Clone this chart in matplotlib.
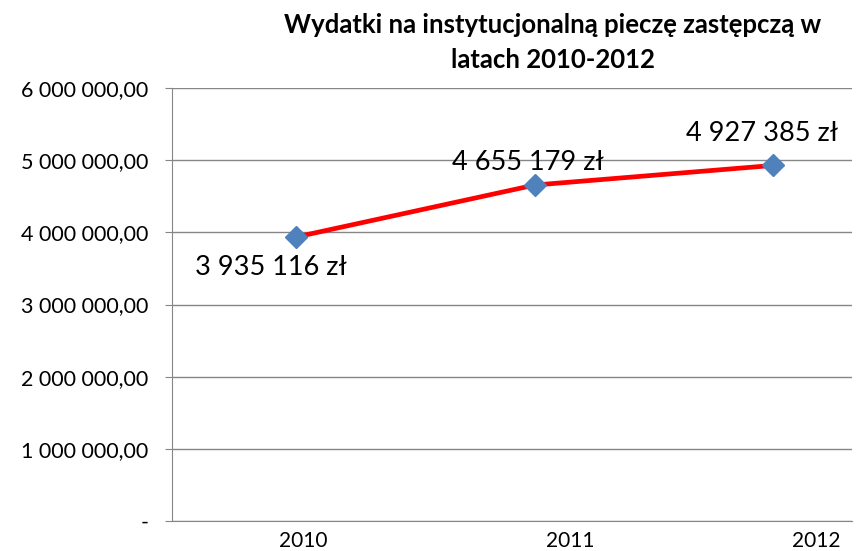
import matplotlib
matplotlib.use("Agg")
import matplotlib.pyplot as plt

years = ["2010", "2011", "2012"]
values = [3935116, 4655179, 4927385]
value_labels = ["3 935 116 zł", "4 655 179 zł", "4 927 385 zł"]
yticks = [0, 1000000, 2000000, 3000000, 4000000, 5000000, 6000000]
ytick_labels = ["-", "1 000 000,00", "2 000 000,00", "3 000 000,00",
                "4 000 000,00", "5 000 000,00", "6 000 000,00"]

plt.rcParams['font.family'] = ['Lato', 'DejaVu Sans']

fig = plt.figure(figsize=(8.58, 5.51), dpi=100)
ax = fig.add_axes([172/858, 1-521/551, (852-172)/858, (521-88)/551])

x = list(range(len(years)))
ax.plot(x, values, color='#FF0000', lw=3.4, zorder=3)
ax.plot(x, values, ls='none', marker='D', color='#4F81BD', markersize=11, zorder=4)

ax.set_xlim(-0.52, 2.33)
ax.set_ylim(0, 6000000)
ax.set_yticks(yticks)
ax.set_yticklabels(ytick_labels, fontsize=15.5)
ax.tick_params(axis='y', length=5, color='#868686', pad=12)
ax.set_xticks([0.03, 1.15, 2.18])
ax.set_xticklabels(years, fontsize=15)
ax.tick_params(axis='x', length=0, pad=7)

ax.grid(axis='y', color='#868686', lw=1)
ax.set_axisbelow(True)
for s in ['top', 'right']:
    ax.spines[s].set_visible(False)
for s in ['left', 'bottom']:
    ax.spines[s].set_color('#868686')

offsets = [(-18, -22), (-5, 16), (-8, 23)]
for xi, v, lab, off in zip(x, values, value_labels, offsets):
    ax.annotate(lab, (xi, v), xytext=off, textcoords='offset points',
                ha='center', va='center', fontsize=19.5)

fig.text(553/858, 1-25/551, "Wydatki na instytucjonalną pieczę zastępczą w",
         ha='center', va='center', fontsize=18.5, fontweight='bold')
fig.text(553/858, 1-60/551, "latach 2010-2012",
         ha='center', va='center', fontsize=18.5, fontweight='bold')

fig.savefig("out.png", dpi=100)
